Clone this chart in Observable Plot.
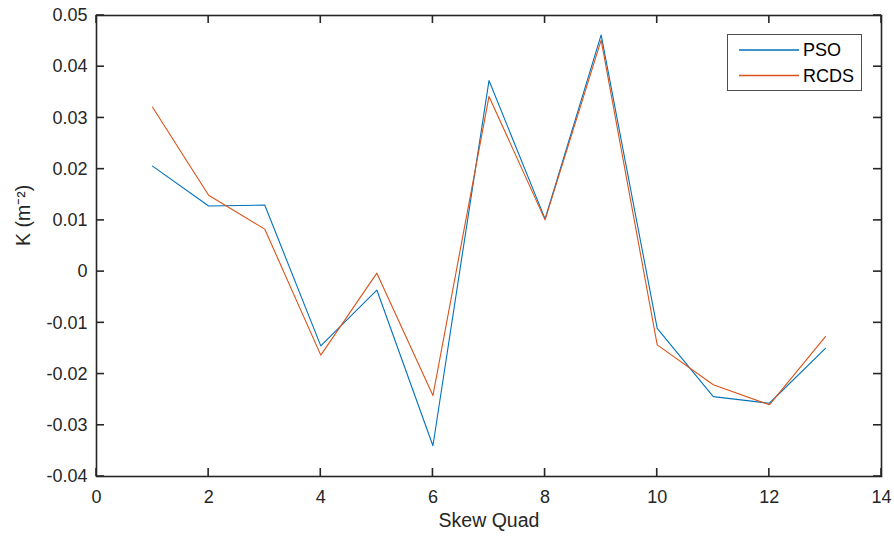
<!DOCTYPE html>
<html>
<head>
<meta charset="utf-8">
<script src="https://cdn.jsdelivr.net/npm/d3@7"></script>
<script src="https://cdn.jsdelivr.net/npm/@observablehq/plot@0.6"></script>
<style>
  html, body { margin: 0; padding: 0; background: #fff; }
  #chart { position: relative; width: 894px; height: 537px; }
</style>
</head>
<body>
<div id="chart"></div>
<script>
const quads = [1, 2, 3, 4, 5, 6, 7, 8, 9, 10, 11, 12, 13];
const psoValues = [0.0206, 0.0128, 0.0130, -0.0145, -0.0036, -0.0340, 0.0373, 0.0103, 0.0462, -0.0111, -0.0244, -0.0257, -0.0150];
const rcdsValues = [0.0321, 0.0149, 0.0083, -0.0163, -0.0003, -0.0242, 0.0342, 0.0101, 0.0452, -0.0143, -0.0221, -0.0260, -0.0127];
const seriesNames = ["PSO", "RCDS"];
const seriesColors = ["#0072BD", "#D95319"];
const xTicks = [0, 2, 4, 6, 8, 10, 12, 14];
const yTicks = [-0.04, -0.03, -0.02, -0.01, 0, 0.01, 0.02, 0.03, 0.04, 0.05];
const yTickLabels = ["-0.04", "-0.03", "-0.02", "-0.01", "0", "0.01", "0.02", "0.03", "0.04", "0.05"];
const xLabel = "Skew Quad";
const yLabel = "K (m⁻²)";

const data = [];
quads.forEach((q, i) => {
  data.push({quad: q, k: psoValues[i], series: seriesNames[0]});
  data.push({quad: q, k: rcdsValues[i], series: seriesNames[1]});
});

const W = 894, H = 537;
const mL = 96, mR = 13, mT = 15, mB = 61;
const tl = 8;
const ink = "#262626";
const font = "'Liberation Sans', Arial, Helvetica, sans-serif";

const plot = Plot.plot({
  width: W, height: H,
  marginLeft: mL, marginRight: mR, marginTop: mT, marginBottom: mB,
  style: {fontFamily: font, fontSize: "18px", color: ink, background: "#fff"},
  x: {domain: [0, 14]},
  y: {domain: [-0.04, 0.05]},
  color: {domain: seriesNames, range: seriesColors},
  marks: [
    Plot.axisX({ticks: xTicks, tickSize: 0, tickPadding: 14, label: null, fill: ink, fontSize: 18}),
    Plot.axisY({ticks: yTicks, tickSize: 0, tickPadding: 9, label: null, fill: ink, fontSize: 18,
      tickFormat: d => yTickLabels[yTicks.findIndex(t => Math.abs(t - d) < 1e-9)]}),
    Plot.line(data, {x: "quad", y: "k", z: "series", stroke: "series", strokeWidth: 1.1}),
    Plot.frame({stroke: ink, strokeWidth: 1.6}),
    Plot.text([xLabel], {frameAnchor: "bottom", dy: 50, fontSize: 19.5, fill: ink}),
    Plot.text([yLabel], {frameAnchor: "left", dx: -73, rotate: -90, fontSize: 19.5, fill: ink})
  ]
});
document.getElementById("chart").appendChild(plot);

// inward ticks on all four sides, placed with Plot's own scales
const sx = plot.scale("x"), sy = plot.scale("y");
const svg = d3.select(plot);
const x0 = mL, x1 = W - mR, y0 = mT, y1 = H - mB;
const tg = svg.append("g").attr("stroke", ink).attr("stroke-width", 1.6);
xTicks.forEach(t => {
  const px = sx.apply(t);
  tg.append("line").attr("x1", px).attr("x2", px).attr("y1", y1).attr("y2", y1 - tl);
  tg.append("line").attr("x1", px).attr("x2", px).attr("y1", y0).attr("y2", y0 + tl);
});
yTicks.forEach(t => {
  const py = sy.apply(t);
  tg.append("line").attr("y1", py).attr("y2", py).attr("x1", x0).attr("x2", x0 + tl);
  tg.append("line").attr("y1", py).attr("y2", py).attr("x1", x1).attr("x2", x1 - tl);
});

// legend (MATLAB style box, top-right inside axes)
const lg = svg.append("g").attr("font-family", font).attr("font-size", 18).attr("text-anchor", "start");
lg.append("rect").attr("x", 727.5).attr("y", 34.5).attr("width", 134).attr("height", 56)
  .attr("fill", "#fff").attr("stroke", "#4d4d4d").attr("stroke-width", 1);
seriesNames.forEach((name, i) => {
  const y = 50 + i * 25.5;
  lg.append("line").attr("x1", 739).attr("x2", 799).attr("y1", y).attr("y2", y)
    .attr("stroke", seriesColors[i]).attr("stroke-width", 1.5);
  lg.append("text").attr("x", 803).attr("y", y).attr("dy", "0.35em").attr("fill", "#000").text(name);
});
</script>
</body>
</html>
